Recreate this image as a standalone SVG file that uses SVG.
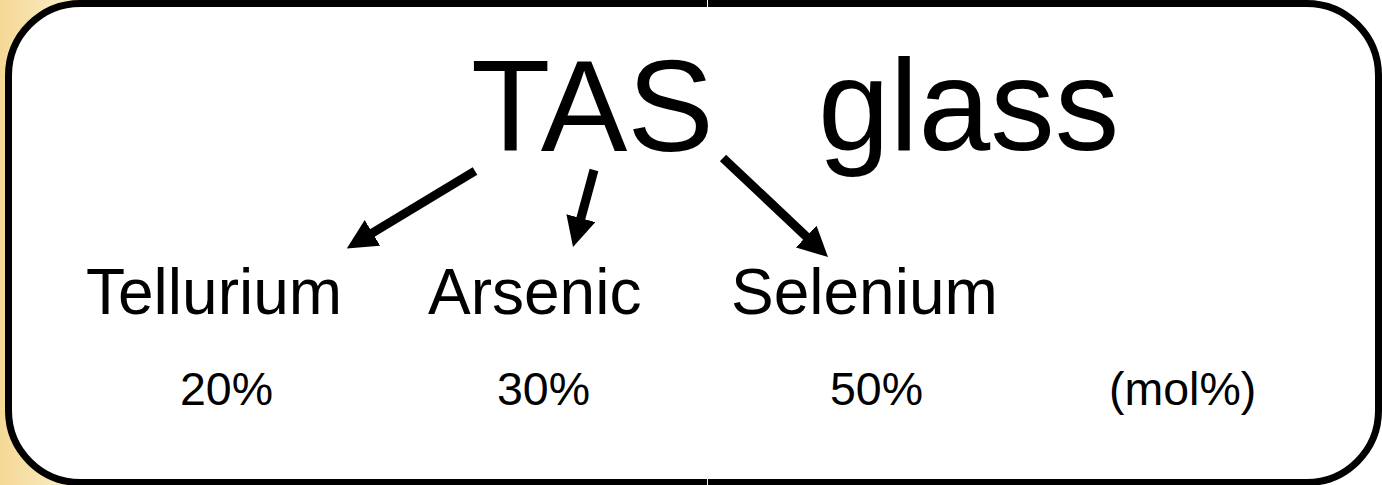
<svg xmlns="http://www.w3.org/2000/svg" width="1382" height="485" viewBox="0 0 1382 485">
  <defs>
    <linearGradient id="bg" x1="0" y1="0" x2="1" y2="0">
      <stop offset="0" stop-color="#f4d896"/>
      <stop offset="0.05" stop-color="#fbedc6"/>
      <stop offset="0.12" stop-color="#ffffff"/>
    </linearGradient>
    <marker id="ah" viewBox="0 0 10 10" refX="3.3" refY="5" markerWidth="30" markerHeight="30" markerUnits="userSpaceOnUse" orient="auto">
      <path d="M0,0 L10,5 L0,10 Z" fill="#000"/>
    </marker>
    <style>
      text { font-family: "Liberation Sans", Arial, sans-serif; fill: #000; }
      .title { font-size: 129px; }
      .label { font-size: 64px; }
      .pct { font-size: 46.5px; }
      .arrow { stroke: #000; stroke-width: 9; fill: none; marker-end: url(#ah); }
    </style>
  </defs>
  <rect x="0" y="0" width="1382" height="485" fill="url(#bg)"/>
  <rect id="frame" x="8.5" y="3.5" width="1370" height="479" rx="72" ry="72" fill="#fff" stroke="#000" stroke-width="7"/>
  <line x1="707.5" y1="0" x2="707.5" y2="8" stroke="#ffffff" stroke-width="1"/>
  <line x1="707.5" y1="476" x2="707.5" y2="485" stroke="#fbefcc" stroke-width="1"/>

  <g id="title">
    <text class="title" x="471" y="151" textLength="243" lengthAdjust="spacingAndGlyphs">TAS</text>
    <text class="title" x="818" y="150">glass</text>
  </g>
  <g id="tellurium">
    <text class="label" x="86" y="314">Tellurium</text>
    <text class="pct" x="180" y="405">20%</text>
  </g>
  <g id="arsenic">
    <text class="label" x="428" y="314">Arsenic</text>
    <text class="pct" x="497" y="405">30%</text>
  </g>
  <g id="selenium">
    <text class="label" x="731" y="314">Selenium</text>
    <text class="pct" x="830" y="405">50%</text>
  </g>
  <g id="unit">
    <text class="pct" x="1109" y="405">(mol%)</text>
  </g>
  <g id="connectors">
    <line class="arrow" x1="475" y1="171" x2="364" y2="238"/>
    <line class="arrow" x1="594" y1="170" x2="578.3" y2="227.7"/>
    <line class="arrow" x1="723" y1="158" x2="813.4" y2="243.3"/>
  </g>
</svg>
